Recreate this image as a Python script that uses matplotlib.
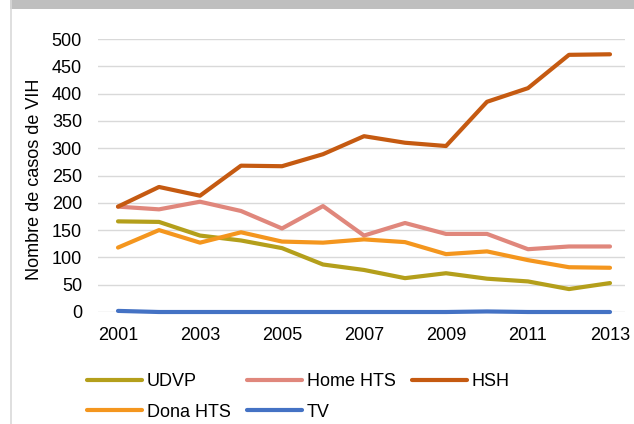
import numpy as np
import matplotlib
matplotlib.use("Agg")
import matplotlib.pyplot as plt
from matplotlib.patches import Rectangle
from matplotlib.lines import Line2D

plt.rcParams['font.family'] = ['Liberation Sans', 'DejaVu Sans']

# years and cases per group
years = [2001, 2002, 2003, 2004, 2005, 2006, 2007, 2008, 2009, 2010, 2011, 2012, 2013]
udvp = [166, 165, 140, 131, 117, 87, 77, 62, 71, 61, 56, 42, 53]
home_hts = [193, 188, 202, 185, 153, 194, 140, 163, 143, 143, 115, 120, 120]
hsh = [193, 229, 213, 268, 267, 289, 322, 310, 304, 385, 410, 471, 472]
dona_hts = [118, 150, 127, 146, 129, 127, 133, 128, 106, 111, 95, 82, 81]
tv = [2, 0, 0, 0, 0, 0, 0, 0, 0, 1, 0, 0, 0]

fs = 13

fig = plt.figure(figsize=(6.34, 4.24), dpi=100)
fig.patch.set_facecolor('white')

# grey frame bits from the original screenshot
fig.patches.append(Rectangle((10/634, 1 - 9/424), 1, 9/424, transform=fig.transFigure,
                             facecolor='#bfbfbf', edgecolor='none'))
fig.add_artist(Line2D([10.5/634, 10.5/634], [0, 1], transform=fig.transFigure,
                      color='#d9d9d9', lw=1.2))

ax = fig.add_axes([98/634, 1 - 312/424, 527/634, 273/424])

lw = 3
l1, = ax.plot(years, udvp, color='#b49f1b', lw=lw, label='UDVP', solid_capstyle='round', clip_on=False)
l2, = ax.plot(years, home_hts, color='#e0877c', lw=lw, label='Home HTS', solid_capstyle='round', clip_on=False)
l3, = ax.plot(years, hsh, color='#c55a11', lw=lw, label='HSH', solid_capstyle='round', clip_on=False)
l4, = ax.plot(years, dona_hts, color='#f4961e', lw=lw, label='Dona HTS', solid_capstyle='round', clip_on=False)
l5, = ax.plot(years, tv, color='#4472c4', lw=lw, label='TV', solid_capstyle='round', clip_on=False)

ax.set_xlim(2000.512, 2013.366)
ax.set_ylim(0, 500)
ax.set_yticks(np.arange(0, 501, 50))
ax.set_xticks(years[::2])
ax.grid(axis='y', color='#d9d9d9', lw=1)
ax.set_axisbelow(True)
for s in ax.spines.values():
    s.set_visible(False)
ax.tick_params(axis='both', length=0, labelsize=fs, colors='black')
ax.tick_params(axis='y', pad=11.5)
ax.tick_params(axis='x', pad=10.5)
ax.set_ylabel('Nombre de casos de VIH', fontsize=fs)
ax.yaxis.set_label_coords(-0.105, 0.487)

# legend fills column by column, so reorder to read row-wise
fig.legend([l1, l4, l2, l5, l3], ['UDVP', 'Dona HTS', 'Home HTS', 'TV', 'HSH'],
           ncol=3, loc='upper left', bbox_to_anchor=(71/634, 1 - 357/424),
           frameon=False, fontsize=fs, handlelength=3.05, handletextpad=0.25,
           columnspacing=0.9, labelspacing=0.75)

fig.savefig('out.png', dpi=100)
